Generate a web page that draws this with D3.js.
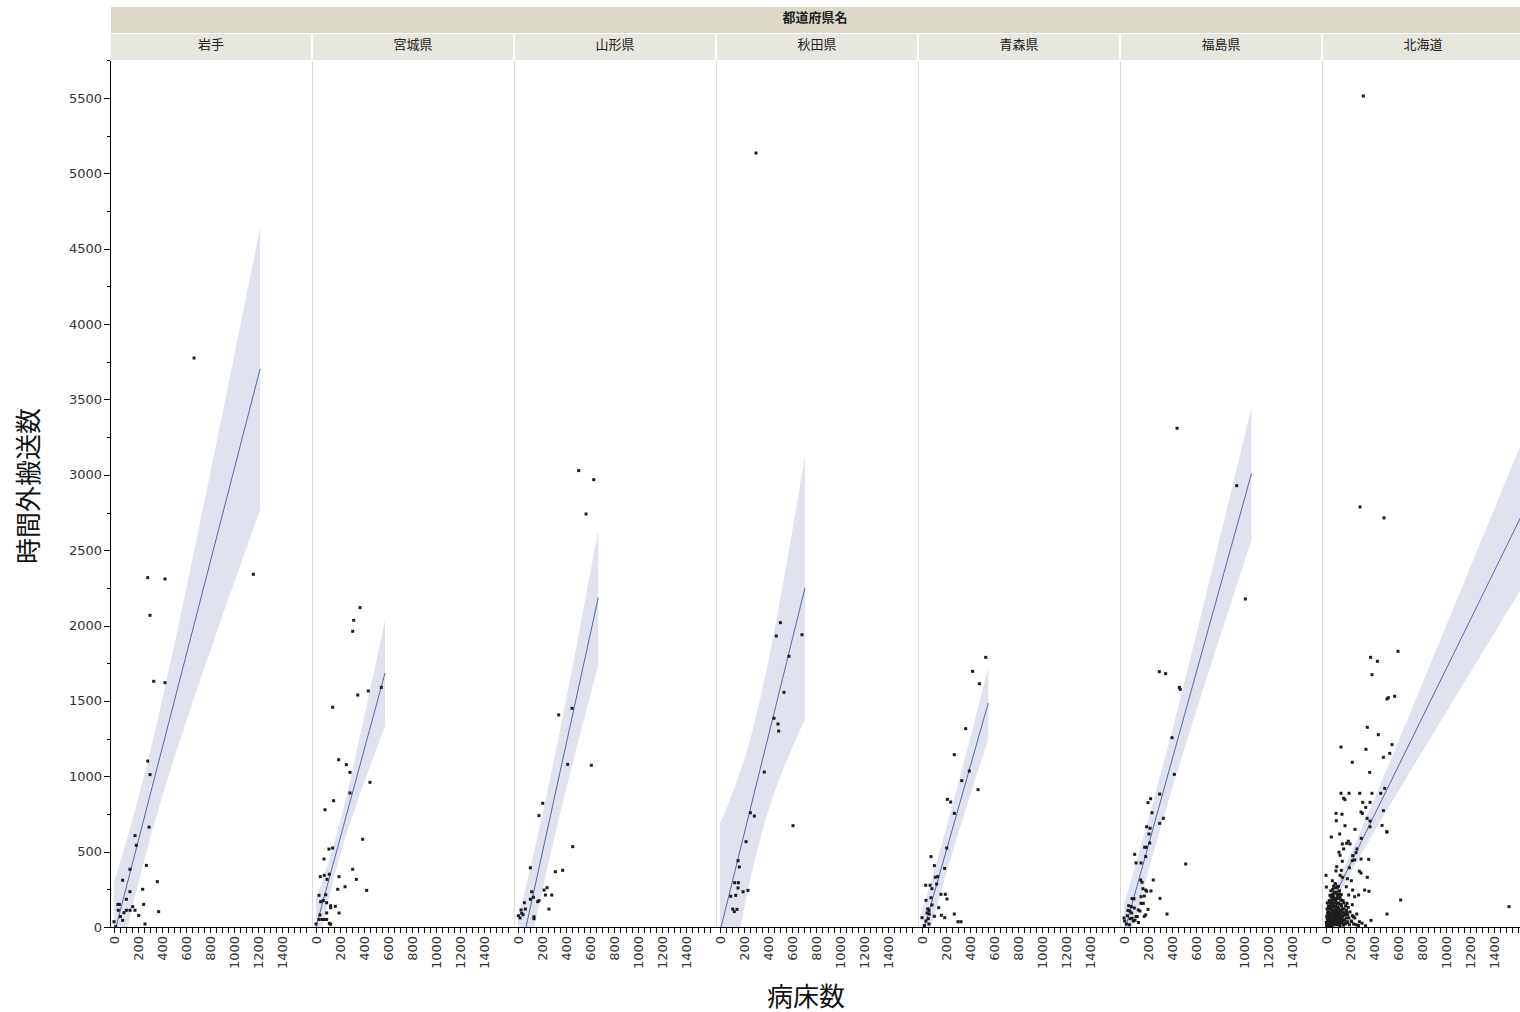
<!DOCTYPE html>
<html><head><meta charset="utf-8">
<script src="https://cdn.jsdelivr.net/npm/d3@7"></script>
<style>body{margin:0;background:#fff} svg{display:block}</style>
</head><body><svg id="c" width="1520" height="1012"></svg>
<script>
const groupTitle = "都道府県名";
const prefectures = ["岩手","宮城県","山形県","秋田県","青森県","福島県","北海道"];
const xTitle = "病床数";
const yTitle = "時間外搬送数";

const pointsIwate = [[281,2318],[425,2309],[300,2068],[331,1630],[425,1621],[1161,2340],[667,3775],[281,1101],[300,1011],[292,663],[175,606],[186,542],[270,409],[133,383],[361,301],[72,310],[133,234],[239,250],[103,184],[33,150],[247,150],[156,135],[103,111],[133,111],[175,111],[372,102],[36,111],[72,44],[83,95],[206,77],[0,35],[258,20],[53,69],[14,2],[45,150]];
const pointsMiyagi = [[367,2119],[314,2035],[306,1962],[436,1566],[348,1539],[544,1590],[139,1458],[189,1110],[253,1077],[283,1026],[450,960],[283,889],[147,838],[75,778],[389,582],[139,524],[108,517],[67,451],[306,383],[111,350],[69,343],[36,334],[192,334],[336,316],[92,316],[242,267],[181,250],[422,243],[25,210],[81,214],[39,168],[61,175],[89,161],[122,141],[161,137],[122,128],[192,93],[89,93],[33,80],[50,50],[69,50],[89,50],[111,24],[122,18],[0,20],[25,50]];
const pointsYamagata = [[506,3028],[631,2968],[567,2740],[339,1407],[450,1451],[414,1079],[611,1073],[206,821],[175,739],[456,533],[103,393],[311,367],[372,376],[242,261],[217,245],[114,234],[228,212],[281,212],[128,197],[103,184],[175,175],[164,168],[53,161],[61,119],[258,119],[25,113],[31,91],[3,75],[42,82],[133,68],[133,55],[17,60]];
const pointsAkita = [[300,5135],[503,2019],[469,1931],[683,1939],[575,1796],[533,1557],[450,1385],[483,1347],[489,1300],[369,1028],[608,672],[253,758],[286,736],[217,566],[150,440],[161,398],[122,294],[153,294],[150,259],[233,243],[192,234],[131,210],[89,204],[106,119],[119,102],[142,117]];
const pointsAomori = [[531,1789],[422,1696],[478,1614],[364,1316],[269,1143],[394,1035],[331,971],[467,911],[211,847],[239,829],[269,754],[206,524],[75,467],[103,407],[189,389],[111,330],[131,334],[122,285],[31,277],[67,277],[83,254],[158,217],[194,217],[75,194],[208,186],[33,177],[83,146],[139,128],[47,120],[58,110],[42,93],[61,86],[103,71],[161,78],[189,62],[269,86],[0,62],[33,40],[53,55],[300,35],[325,35],[58,20],[20,10]];
const pointsFukushima = [[442,3309],[939,2928],[1011,2176],[294,1694],[347,1681],[461,1590],[469,1577],[400,1256],[419,1013],[297,882],[222,851],[200,825],[233,758],[328,721],[297,688],[189,665],[217,655],[208,617],[214,557],[172,529],[186,529],[181,467],[89,482],[100,425],[142,425],[514,418],[139,312],[150,297],[244,312],[158,254],[181,245],[189,237],[225,239],[300,190],[83,188],[67,188],[142,201],[169,206],[142,157],[161,157],[39,141],[61,135],[86,126],[119,113],[133,106],[50,104],[33,110],[64,93],[200,117],[100,69],[111,69],[181,80],[169,71],[358,86],[28,75],[50,55],[67,58],[78,40],[92,45],[0,60],[5,40],[20,20],[45,15],[120,30]];
const pointsHokkaido = [[311,5513],[283,2787],[483,2714],[600,1829],[372,1789],[428,1763],[383,1674],[519,1521],[508,1513],[572,1531],[344,1325],[436,1276],[125,1194],[333,1179],[550,1210],[531,1152],[478,1126],[219,1093],[364,1026],[489,920],[125,887],[192,887],[281,887],[383,887],[456,887],[147,854],[158,845],[306,827],[367,827],[331,794],[83,754],[133,748],[292,763],[303,754],[478,772],[86,705],[342,721],[367,703],[158,672],[242,648],[367,665],[467,674],[508,630],[506,632],[44,597],[114,617],[294,588],[186,569],[172,555],[136,551],[147,518],[200,551],[258,518],[250,493],[108,496],[117,476],[222,473],[239,445],[219,440],[292,451],[356,449],[136,436],[89,400],[83,372],[128,376],[194,393],[278,370],[292,358],[0,343],[3,265],[344,330],[117,343],[136,330],[178,320],[211,307],[53,307],[75,287],[103,270],[169,267],[222,245],[322,245],[358,237],[189,212],[239,201],[272,212],[622,179],[67,224],[50,179],[103,192],[142,175],[175,157],[219,148],[1525,135],[508,86],[256,86],[228,68],[181,80],[150,86],[375,44],[278,35],[214,35],[178,35],
[5,10],[8,25],[12,5],[15,40],[18,60],[20,15],[22,80],[25,30],[28,100],[30,50],[32,8],[35,120],[38,70],[40,20],[42,150],[45,90],[48,35],[50,180],[52,110],[55,60],[58,12],[60,200],[62,140],[65,75],[68,28],[70,230],[72,160],[75,95],[78,45],[80,260],[82,120],[85,15],[88,190],[90,70],[92,35],[95,210],[98,130],[100,55],[102,20],[105,160],[108,90],[110,40],[112,240],[115,110],[118,65],[120,25],[122,180],[125,85],[128,48],[130,140],[10,55],[14,85],[16,18],[24,125],[26,65],[34,160],[36,42],[44,200],[46,10],[54,95],[56,250],[64,105],[66,48],[74,55],[76,180],[84,140],[86,80],[94,100],[96,50],[104,75],[106,28],[114,150],[116,8],[124,60],[132,100],[136,30],[140,70],[145,12],[150,120],[155,45],[160,80],[165,25],[170,110],[3,30],[6,70],[9,120],[11,160],[13,35],[17,100],[19,5],[21,140],[23,48],[27,175],[29,22],[31,90],[33,210],[37,130],[39,55],[41,240],[43,85],[47,165],[49,28],[51,130],[53,215],[57,40],[59,150],[61,85],[63,270],[67,135],[69,65],[71,190],[73,20],[77,115],[79,285],[81,48],[83,170],[87,230],[89,110],[91,15],[93,155],[97,265],[99,90],[101,190],[103,40],[107,125],[109,220],[111,70],[113,18],[117,200],[119,110],[121,42],[123,150],[127,215],[129,30],[134,175],[138,120],[142,48],[148,160],[152,95],[158,20],[163,140],[168,60],[175,95],[180,30],[185,130],[190,60],[195,15],[200,100],[210,40],[220,75],[230,20],[240,60],[250,15],[270,10],[300,25],[330,8]];

const pointsByPref = [pointsIwate, pointsMiyagi, pointsYamagata, pointsAkita, pointsAomori, pointsFukushima, pointsHokkaido];

// regression line + confidence band
const fitIntercept = [-52, 0, -243, -30, -60, -40, 90];
const fitSlope     = [3.085, 2.93, 3.63, 3.22, 2.8, 2.87, 1.62];
const fitXEnd      = [1217, 575, 669, 708, 552, 1062, 1650];
const bandHalfMin  = [282, 110, 250, 460, 150, 170, 60];
const bandXMean    = [230, 180, 200, 300, 150, 200, 120];
const bandHalfEnd  = [935, 350, 450, 875, 240, 440, 490];

const yTicksMajor = d3.range(0, 5501, 500);
const yTicksMinor = d3.range(250, 5751, 500);
const xTicksMajor = d3.range(0, 1401, 200);
const xTicksMinor = d3.range(-50, 1651, 50);

const svg = d3.select("#c");
const plotTop = 61, plotBottom = 927, panelLeft0 = 111, panelW = 202;
const y = d3.scaleLinear().domain([0, 5500]).range([plotBottom, 98]);

const numFont = "'DejaVu Sans', Verdana, sans-serif";
const jpFont = "'Noto Sans CJK JP', sans-serif";

// header bars
svg.append("rect").attr("x", panelLeft0).attr("y", 7).attr("width", 1520 - panelLeft0).attr("height", 26)
  .attr("fill", "#dcd9cb");
svg.append("text").attr("x", (panelLeft0 + panelLeft0 + panelW * 7) / 2 - 3).attr("y", 18)
  .attr("text-anchor", "middle").attr("dominant-baseline", "middle")
  .attr("font-family", jpFont).attr("font-size", 13).attr("font-weight", "bold").attr("fill", "#222")
  .text(groupTitle);

const defs = svg.append("defs");

prefectures.forEach((name, i) => {
  const left = panelLeft0 + i * panelW;
  const x = d3.scaleLinear().domain([-25, 1658]).range([left, left + panelW]);

  // strip
  svg.append("rect").attr("x", left).attr("y", 34).attr("width", panelW - 2).attr("height", 26)
    .attr("fill", "#e8e7df");
  svg.append("text").attr("x", left + panelW / 2 - 1).attr("y", 45)
    .attr("text-anchor", "middle").attr("dominant-baseline", "middle")
    .attr("font-family", jpFont).attr("font-size", 13).attr("fill", "#222")
    .text(name);

  // separator
  if (i > 0) {
    svg.append("line").attr("x1", left - 0.5).attr("x2", left - 0.5).attr("y1", plotTop).attr("y2", plotBottom)
      .attr("stroke", "#d9d9d9").attr("stroke-width", 1);
  }

  const clipId = "clip" + i;
  defs.append("clipPath").attr("id", clipId).append("rect")
    .attr("x", left).attr("y", plotTop).attr("width", panelW - 1).attr("height", plotBottom - plotTop);
  const g = svg.append("g").attr("clip-path", `url(#${clipId})`);

  const a = fitIntercept[i], b = fitSlope[i], xe = fitXEnd[i];
  const hm = bandHalfMin[i], xm = bandXMean[i], he = bandHalfEnd[i];
  const k = (he * he - hm * hm) / ((xe - xm) * (xe - xm));
  const hw = v => Math.sqrt(hm * hm + k * (v - xm) * (v - xm));
  const xs = d3.range(0, 61).map(j => xe * j / 60);
  const band = d3.area()
    .x(v => x(v))
    .y0(v => y(a + b * v - hw(v)))
    .y1(v => y(a + b * v + hw(v)));
  g.append("path").attr("d", band(xs)).attr("fill", "#e0e3ee");
  g.append("line").attr("x1", x(0)).attr("y1", y(a)).attr("x2", x(xe)).attr("y2", y(a + b * xe))
    .attr("stroke", "#5866a8").attr("stroke-width", 1);

  g.selectAll("rect.pt").data(pointsByPref[i]).enter().append("rect")
    .attr("class", "pt")
    .attr("x", d => x(d[0]) - 1.5).attr("y", d => y(d[1]) - 1.5)
    .attr("width", 3).attr("height", 3).attr("fill", "#1c1c1c");

  // x axis
  const xa = svg.append("g").attr("transform", `translate(0,${plotBottom})`);
  xa.append("line").attr("x1", left).attr("x2", Math.min(left + panelW, 1520)).attr("y1", 0.5).attr("y2", 0.5)
    .attr("stroke", "#000");
  xa.selectAll("line.mn").data(xTicksMinor.filter(v => x(v) >= left + 1 && x(v) <= left + panelW - 2)).enter()
    .append("line").attr("class", "mn")
    .attr("x1", v => Math.round(x(v)) + 0.5).attr("x2", v => Math.round(x(v)) + 0.5)
    .attr("y1", 0).attr("y2", 6).attr("stroke", "#000");
  xa.selectAll("text").data(xTicksMajor).enter().append("text")
    .attr("transform", v => `translate(${x(v) + 5},9) rotate(-90)`)
    .attr("text-anchor", "end")
    .attr("font-family", numFont).attr("font-size", 13).attr("fill", "#333")
    .text(v => v);
});

// y axis
const ya = svg.append("g");
ya.append("line").attr("x1", 110.5).attr("x2", 110.5).attr("y1", plotTop).attr("y2", plotBottom + 1).attr("stroke", "#000");
ya.selectAll("line.mj").data(yTicksMajor).enter().append("line").attr("class", "mj")
  .attr("x1", 104).attr("x2", 110).attr("y1", v => Math.round(y(v)) + 0.5).attr("y2", v => Math.round(y(v)) + 0.5).attr("stroke", "#000");
ya.selectAll("line.mn").data(yTicksMinor).enter().append("line").attr("class", "mn")
  .attr("x1", 107).attr("x2", 110).attr("y1", v => Math.round(y(v)) + 0.5).attr("y2", v => Math.round(y(v)) + 0.5).attr("stroke", "#000");
ya.selectAll("text").data(yTicksMajor).enter().append("text")
  .attr("x", 102).attr("y", v => y(v)).attr("dy", "0.35em")
  .attr("text-anchor", "end").attr("font-family", numFont).attr("font-size", 13).attr("fill", "#333")
  .text(v => v);

// titles
svg.append("text").attr("transform", "translate(38,486) rotate(-90)")
  .attr("text-anchor", "middle").attr("font-family", jpFont).attr("font-size", 26).attr("fill", "#111")
  .text(yTitle);
svg.append("text").attr("x", 806).attr("y", 997).attr("dy", "0.35em")
  .attr("text-anchor", "middle").attr("font-family", jpFont).attr("font-size", 26).attr("fill", "#111")
  .text(xTitle);
</script>
</body></html>
